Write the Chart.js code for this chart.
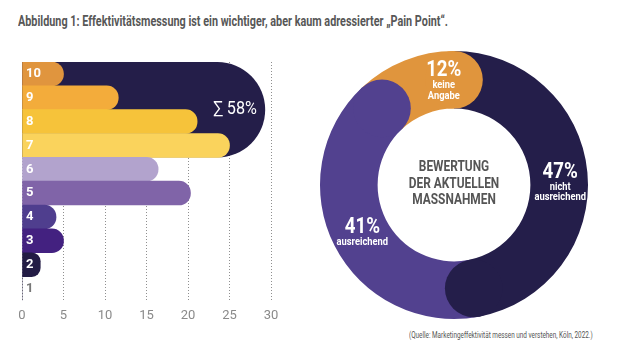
<!DOCTYPE html>
<html>
<head>
<meta charset="utf-8">
<script src="https://cdn.jsdelivr.net/npm/chart.js@4.4.1/dist/chart.umd.min.js"></script>
<style>
  body {
    margin: 0;
    width: 620px;
    height: 350px;
    background: #fff;
    position: relative;
    overflow: hidden;
    font-family: "Roboto", "Liberation Sans", sans-serif;
  }
  #title {
    position: absolute;
    left: 18px;
    top: 13px;
    font-size: 14px;
    font-weight: bold;
    color: #575757;
    white-space: nowrap;
    transform-origin: 0 0;
  }
  #source {
    position: absolute;
    left: 409px;
    top: 330px;
    font-size: 9px;
    color: #555;
    white-space: nowrap;
    transform-origin: 0 0;
  }
  #barChart { position: absolute; left: 0; top: 0; }
  #ringChart { position: absolute; left: 309px; top: 40px; }
</style>
</head>
<body>
<div id="title">Abbildung 1: Effektivitätsmessung ist ein wichtiger, aber kaum adressierter „Pain Point“.</div>
<canvas id="barChart" width="300" height="350"></canvas>
<canvas id="ringChart" width="290" height="290"></canvas>
<div id="source">(Quelle: Marketingeffektivität messen und verstehen, Köln, 2022.)</div>

<script>
const fontStack = '"Roboto", "Liberation Sans", sans-serif';

// left chart: share per rating
const ratingLabels = ["10", "9", "8", "7", "6", "5", "4", "3", "2", "1"];
const ratingValues = [5, 11.6, 21.1, 25, 16.4, 20.3, 4.1, 5, 2.2, 0];
const ratingColors = ["#e0953e", "#f3ac3b", "#f6c33a", "#fad35c", "#b2a3cd", "#8064a8", "#4f3e8e", "#432180", "#231c45", "#231c45"];
const xTicks = [0, 5, 10, 15, 20, 25, 30];

// navy group behind ratings 7-10
const topGroup = ["10", "9", "8", "7"];
const topGroupShare = 58;
const topGroupReach = 29.3;
const navy = "#241e49";

// right chart
const ringLabels = [["keine", "Angabe"], ["nicht", "ausreichend"], ["ausreichend"]];
const ringValues = [12, 47, 41];
const ringColors = ["#e0953d", "#241e4a", "#52418f"];
const centerLines = ["BEWERTUNG", "DER AKTUELLEN", "MASSNAHMEN"];

// squeeze the html texts to the condensed widths of the original
function fitWidth(id, w) {
  const el = document.getElementById(id);
  el.style.transform = "scaleX(" + (w / el.scrollWidth) + ")";
}
fitWidth("title", 430);
fitWidth("source", 184);

function narrowText(ctx, text, x, y, k) {
  ctx.save();
  ctx.translate(x, y);
  ctx.scale(k, 1);
  ctx.fillText(text, 0, 0);
  ctx.restore();
}

function groupBox(chart) {
  const meta = chart.getDatasetMeta(0);
  const first = meta.data[ratingLabels.indexOf(topGroup[0])];
  const last = meta.data[ratingLabels.indexOf(topGroup[topGroup.length - 1])];
  const top = first.y - first.height / 2;
  const bottom = last.y + last.height / 2;
  return {
    top: top,
    bottom: bottom,
    left: chart.scales.x.getPixelForValue(0),
    right: chart.scales.x.getPixelForValue(topGroupReach),
    r: (bottom - top) / 2
  };
}

const groupPlugin = {
  id: "groupShape",
  beforeDatasetsDraw(chart) {
    const ctx = chart.ctx;
    const b = groupBox(chart);
    ctx.save();
    ctx.fillStyle = navy;
    ctx.beginPath();
    ctx.moveTo(b.left, b.top);
    ctx.lineTo(b.right - b.r, b.top);
    ctx.arc(b.right - b.r, b.top + b.r, b.r, -Math.PI / 2, Math.PI / 2);
    ctx.lineTo(b.left, b.bottom);
    ctx.closePath();
    ctx.fill();
    ctx.restore();
  },
  afterDatasetsDraw(chart) {
    const ctx = chart.ctx;
    const b = groupBox(chart);
    ctx.save();
    ctx.fillStyle = "#fff";
    ctx.font = "18px " + fontStack;
    ctx.textAlign = "center";
    ctx.textBaseline = "middle";
    narrowText(ctx, "\u2211 " + topGroupShare + "%", b.right - b.r * 0.63, b.top + b.r, 0.9);
    ctx.restore();
  }
};

new Chart(document.getElementById("barChart"), {
  type: "bar",
  data: {
    labels: ratingLabels,
    datasets: [{
      data: ratingValues,
      backgroundColor: ratingColors,
      borderRadius: 20,
      borderSkipped: "start",
      barPercentage: 1,
      categoryPercentage: 1
    }]
  },
  plugins: [groupPlugin],
  options: {
    indexAxis: "y",
    responsive: false,
    animation: false,
    layout: { padding: { left: 22, right: 29, top: 62, bottom: 18 } },
    plugins: { legend: { display: false }, tooltip: { enabled: false } },
    scales: {
      x: {
        min: xTicks[0],
        max: xTicks[xTicks.length - 1],
        ticks: {
          stepSize: 5,
          color: "#8a8a8a",
          padding: 8,
          font: { family: fontStack, size: 13 }
        },
        grid: {
          color: "#8f8f8f",
          lineWidth: 1,
          drawTicks: false
        },
        border: { display: false, dash: [1, 2] }
      },
      y: {
        afterFit: function (scale) { scale.width = 0; },
        ticks: {
          z: 1,
          mirror: true,
          padding: 4,
          color: function (c) { return c.index === ratingLabels.length - 1 ? "#777" : "#fff"; },
          font: { family: fontStack, size: 13, weight: "bold" }
        },
        grid: { display: false, drawTicks: false },
        border: { display: false }
      }
    }
  }
});

const ringPlugin = {
  id: "ringExtras",
  afterDatasetsDraw(chart) {
    const ctx = chart.ctx;
    const meta = chart.getDatasetMeta(0);

    // rounded ends that overlap the next segment
    meta.data.forEach(function (arc, i) {
      const p = arc.getProps(["x", "y", "endAngle", "innerRadius", "outerRadius"]);
      const mid = (p.innerRadius + p.outerRadius) / 2;
      const capR = (p.outerRadius - p.innerRadius) / 2;
      ctx.fillStyle = ringColors[i];
      ctx.beginPath();
      ctx.arc(p.x + mid * Math.cos(p.endAngle), p.y + mid * Math.sin(p.endAngle), capR, 0, Math.PI * 2);
      ctx.fill();
    });

    // labels
    const angleShift = [16.5, -1.5, 2.2];
    const labelRadius = [115, 107, 101];
    ctx.save();
    ctx.textAlign = "center";
    ctx.textBaseline = "middle";
    ctx.fillStyle = "#fff";
    meta.data.forEach(function (arc, i) {
      const p = arc.getProps(["x", "y", "startAngle", "endAngle"]);
      const a = (p.startAngle + p.endAngle) / 2 + angleShift[i] * Math.PI / 180;
      const lx = p.x + labelRadius[i] * Math.cos(a);
      const ly = p.y + labelRadius[i] * Math.sin(a);
      ctx.font = "bold 22px " + fontStack;
      narrowText(ctx, ringValues[i] + "%", lx, ly, 0.85);
      ctx.font = "bold 11px " + fontStack;
      ringLabels[i].forEach(function (line, j) {
        narrowText(ctx, line, lx, ly + 15 + j * 10.5, 0.85);
      });
    });

    // centre text
    const c = meta.data[0];
    ctx.fillStyle = "#555";
    ctx.font = "bold 14px " + fontStack;
    centerLines.forEach(function (line, j) {
      narrowText(ctx, line, c.x, c.y + (j - 1) * 16.5 - 1, 0.85);
    });
    ctx.restore();
  }
};

new Chart(document.getElementById("ringChart"), {
  type: "doughnut",
  data: {
    labels: ringLabels.map(function (l) { return l.join(" "); }),
    datasets: [{
      data: ringValues,
      backgroundColor: ringColors,
      borderWidth: 0
    }]
  },
  plugins: [ringPlugin],
  options: {
    responsive: false,
    animation: false,
    cutout: "57%",
    rotation: -ringValues[0] / 100 * 360,
    layout: { padding: 11 },
    plugins: { legend: { display: false }, tooltip: { enabled: false } }
  }
});
</script>
</body>
</html>
